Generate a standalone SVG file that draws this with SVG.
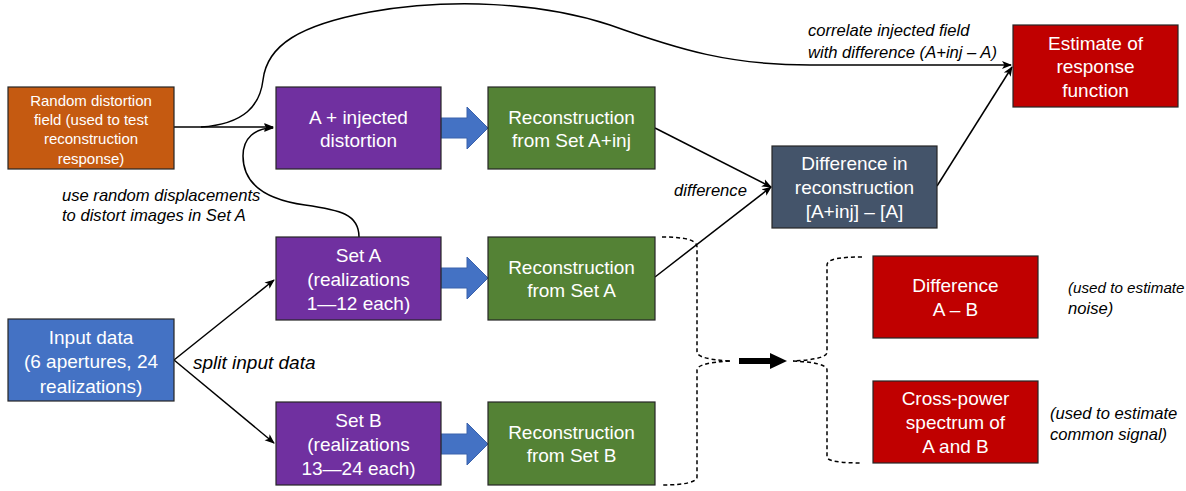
<svg xmlns="http://www.w3.org/2000/svg" width="1186" height="491" viewBox="0 0 1186 491">
<style>
.box{stroke:#262626;stroke-width:1.2}
.bt{font-family:"Liberation Sans",Arial,sans-serif;font-size:19px;fill:#fff;text-anchor:middle}
.st{font-family:"Liberation Sans",Arial,sans-serif;font-size:15px;fill:#fff;text-anchor:middle}
.lb{font-family:"Liberation Sans",Arial,sans-serif;font-size:16.6px;font-style:italic;fill:#000}
.ln{fill:none;stroke:#000;stroke-width:1.5}
.ds{fill:none;stroke:#000;stroke-width:1.5;stroke-dasharray:4 3}
.blk{fill:#4472C4;stroke:#3A62AC;stroke-width:1}
</style>
<defs>
<marker id="ah" markerUnits="userSpaceOnUse" markerWidth="10" markerHeight="10" viewBox="0 0 10 10" refX="9" refY="5" orient="auto">
<path d="M0,1 L10,5 L0,9 L2.5,5 Z" fill="#000"/>
</marker>
</defs>
<rect width="1186" height="491" fill="#fff"/>

<g id="connectors">
<path class="ln" d="M174,127 L273,127" marker-end="url(#ah)"/>
<path class="ln" d="M201,127 C245,124 260,105 263,80 C267,45 300,25 370,12 C450,-2 540,2 610,25 C680,50 730,65 810,65 L1011,65" marker-end="url(#ah)"/>
<path class="ln" d="M359,237 C359,214 340,210 305,205 C262,199 243,182 243,156 C243,138 255,128 273,128" marker-end="url(#ah)"/>
<path class="ln" d="M174,360 L274,280" marker-end="url(#ah)"/>
<path class="ln" d="M174,360 L274,443" marker-end="url(#ah)"/>
<path class="ln" d="M655,128 L771,187" marker-end="url(#ah)"/>
<path class="ln" d="M655,277 L771,187" marker-end="url(#ah)"/>
<path class="ln" d="M937,186 L1012,67" marker-end="url(#ah)"/>
<path class="blk" d="M441,118 L467,118 L467,107 L488,128 L467,149 L467,138 L441,138 Z"/>
<path class="blk" d="M441,268 L467,268 L467,257 L488,278 L467,299 L467,288 L441,288 Z"/>
<path class="blk" d="M441,434 L467,434 L467,423 L488,444 L467,465 L467,454 L441,454 Z"/>
<path class="ds" d="M662,237 C685,237 697,240 697,247 L697,352 C697,357 710,360 730,361"/>
<path class="ds" d="M730,361 C710,362 697,365 697,370 L697,477 C697,482 685,485 662,485"/>
<path class="ds" d="M862,257 C840,257 827,259 827,265 L827,352 C827,357 815,360 793,361"/>
<path class="ds" d="M793,361 C815,362 827,365 827,370 L827,457 C827,461 840,463 862,463"/>
<path d="M739,358 L770,358 L770,353 L787,361 L770,369 L770,364 L739,364 Z" fill="#000"/>
</g>

<g id="random-field">
<rect class="box" x="8" y="87" width="166" height="82" fill="#C55A11"/>
<text class="st" x="91" y="106.3">Random distortion</text>
<text class="st" x="91" y="125.3">field (used to test</text>
<text class="st" x="91" y="144.3">reconstruction</text>
<text class="st" x="91" y="164">response)</text>
</g>

<g id="a-injected">
<rect class="box" x="276" y="87" width="165" height="82" fill="#7030A0"/>
<text class="bt" x="358.5" y="123.7">A + injected</text>
<text class="bt" x="358.5" y="146.7">distortion</text>
</g>

<g id="recon-a-inj">
<rect class="box" x="488" y="87" width="167" height="82" fill="#548235"/>
<text class="bt" x="571.5" y="123.7">Reconstruction</text>
<text class="bt" x="571.5" y="146.7">from Set A+inj</text>
</g>

<g id="difference-recon">
<rect class="box" x="772" y="146" width="165" height="82" fill="#44546A"/>
<text class="bt" x="854.5" y="169.7">Difference in</text>
<text class="bt" x="854.5" y="193.7">reconstruction</text>
<text class="bt" x="854.5" y="217.7">[A+inj] – [A]</text>
</g>

<g id="estimate">
<rect class="box" x="1013" y="25" width="165" height="82" fill="#C00000"/>
<text class="bt" x="1095.5" y="49.7">Estimate of</text>
<text class="bt" x="1095.5" y="73.2">response</text>
<text class="bt" x="1095.5" y="96.7">function</text>
</g>

<g id="input-data">
<rect class="box" x="8" y="319" width="166" height="82" fill="#4472C4"/>
<text class="bt" x="91" y="343.7">Input data</text>
<text class="bt" x="91" y="368.2">(6 apertures, 24</text>
<text class="bt" x="91" y="392.7">realizations)</text>
</g>

<g id="set-a">
<rect class="box" x="276" y="237" width="165" height="83" fill="#7030A0"/>
<text class="bt" x="358.5" y="261.7">Set A</text>
<text class="bt" x="358.5" y="285.7">(realizations</text>
<text class="bt" x="358.5" y="309.7">1—12 each)</text>
</g>

<g id="recon-a">
<rect class="box" x="488" y="237" width="167" height="83" fill="#548235"/>
<text class="bt" x="571.5" y="273.7">Reconstruction</text>
<text class="bt" x="571.5" y="296.7">from Set A</text>
</g>

<g id="set-b">
<rect class="box" x="276" y="402" width="165" height="83" fill="#7030A0"/>
<text class="bt" x="358.5" y="426.7">Set B</text>
<text class="bt" x="358.5" y="450.7">(realizations</text>
<text class="bt" x="358.5" y="474.7">13—24 each)</text>
</g>

<g id="recon-b">
<rect class="box" x="488" y="402" width="167" height="83" fill="#548235"/>
<text class="bt" x="571.5" y="438.7">Reconstruction</text>
<text class="bt" x="571.5" y="461.7">from Set B</text>
</g>

<g id="diff-ab">
<rect class="box" x="873" y="256" width="165" height="82" fill="#C00000"/>
<text class="bt" x="955.5" y="291.7">Difference</text>
<text class="bt" x="955.5" y="315.7">A – B</text>
</g>

<g id="cross-power">
<rect class="box" x="873" y="381" width="165" height="82" fill="#C00000"/>
<text class="bt" x="955.5" y="404.7">Cross-power</text>
<text class="bt" x="955.5" y="428.7">spectrum of</text>
<text class="bt" x="955.5" y="452.7">A and B</text>
</g>

<g id="labels">
<text class="lb" x="808" y="36">correlate injected field</text>
<text class="lb" x="808" y="58">with difference (A+inj – A)</text>
<text class="lb" x="62" y="201">use random displacements</text>
<text class="lb" x="62" y="221">to distort images in Set A</text>
<text class="lb" x="674" y="196">difference</text>
<text class="lb" x="193" y="368.5" style="font-size:19px">split input data</text>
<text class="lb" x="1068" y="293" style="font-size:15.2px">(used to estimate</text>
<text class="lb" x="1068" y="314">noise)</text>
<text class="lb" x="1050" y="419">(used to estimate</text>
<text class="lb" x="1050" y="440">common signal)</text>
</g>
</svg>
